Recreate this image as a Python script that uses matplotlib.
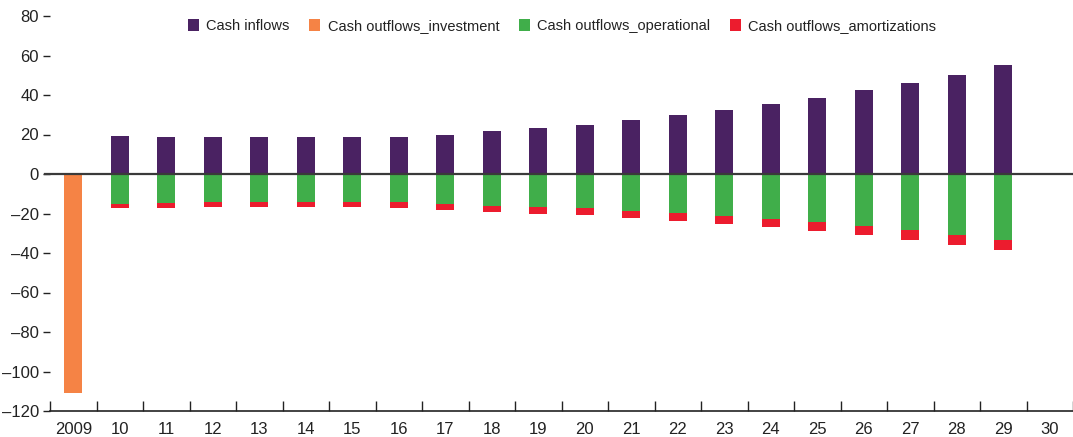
import numpy as np
import matplotlib
matplotlib.use("Agg")
import matplotlib.pyplot as plt
from matplotlib.ticker import FixedLocator

plt.rcParams['font.family'] = ['Liberation Sans Narrow', 'Liberation Sans', 'DejaVu Sans']

years = ['2009', '10', '11', '12', '13', '14', '15', '16', '17', '18', '19',
         '20', '21', '22', '23', '24', '25', '26', '27', '28', '29', '30']
inflows = [0, 19.2, 18.7, 18.7, 18.7, 18.7, 18.7, 18.7, 19.7, 21.8, 23.3,
           24.8, 27.5, 29.9, 32.4, 35.4, 38.5, 42.5, 46.1, 50.1, 55.2, 0]
investment = [-110.7] + [0] * 21
operational = [0, -15.0, -14.7, -14.2, -14.2, -14.2, -14.0, -14.0, -15.2, -16.2, -16.7,
               -17.2, -18.7, -19.7, -21.1, -22.8, -24.3, -26.2, -28.2, -30.7, -33.2, 0]
amortizations = [0, -2.0, -2.3, -2.3, -2.3, -2.3, -2.5, -3.0, -2.9, -2.9, -3.4,
                 -3.6, -3.4, -3.9, -4.0, -3.9, -4.4, -4.5, -5.0, -5.1, -5.1, 0]

c_in = '#4a2262'
c_inv = '#f58345'
c_op = '#40ae4a'
c_am = '#ec1c2e'

fig = plt.figure(figsize=(10.73, 4.37), dpi=100)
ax = fig.add_axes([50 / 1073, 1 - 411 / 437, 1 - 50 / 1073, (411 - 16) / 437])

x = np.arange(len(years))
w = 0.39
ax.bar(x, inflows, w, color=c_in, label='Cash inflows')
ax.bar(x, investment, w, color=c_inv, label='Cash outflows_investment')
ax.bar(x, operational, w, color=c_op, label='Cash outflows_operational')
ax.bar(x, amortizations, w, bottom=operational, color=c_am, label='Cash outflows_amortizations')

ax.axhline(0, color='#3a3a3a', lw=1.6, zorder=3, xmin=-0.005, clip_on=False)

ax.set_xlim(-0.5, len(years) - 0.5)
ax.set_ylim(-120, 80)
ax.set_yticks(range(-120, 81, 20))
ax.set_yticklabels([str(v).replace('-', '\u2013') for v in range(-120, 81, 20)])

ax.set_xticks(x)
ax.set_xticklabels(years)
ax.xaxis.set_minor_locator(FixedLocator(np.arange(-0.5, len(years), 1.0)))
ax.tick_params(axis='x', which='major', length=0, labelsize=12, pad=8, colors='#222222')
ax.tick_params(axis='x', which='minor', direction='in', length=7, width=1, color='#222222')
ax.tick_params(axis='y', which='major', direction='out', length=5, width=1,
               labelsize=12, pad=3, color='#222222', labelcolor='#222222')

for s in ['top', 'right', 'left']:
    ax.spines[s].set_visible(False)
ax.spines['bottom'].set_color('#222222')
ax.spines['bottom'].set_linewidth(1.2)

fig.legend(loc='center', bbox_to_anchor=(0.524, 0.941), ncol=4, frameon=False,
           fontsize=10.5, handlelength=0.75, handleheight=0.85, handletextpad=0.5,
           columnspacing=1.35, labelcolor='#222222')

fig.savefig('out.png', dpi=100)
